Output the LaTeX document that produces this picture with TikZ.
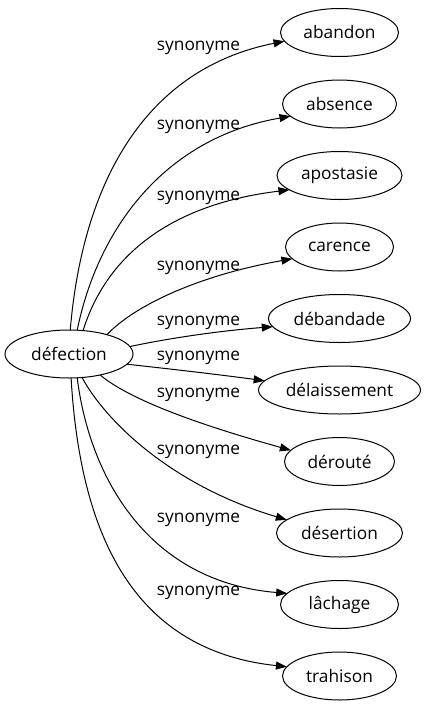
\documentclass[tikz,border=0pt]{standalone}
\usepackage{fontspec}
\setmainfont{Open Sans}
\usetikzlibrary{shapes.geometric,arrows.meta}
\begin{document}
\begin{tikzpicture}[x=1pt,y=-1pt,
  word/.style={draw, ellipse, line width=1pt, inner sep=0pt, outer sep=0pt,
    minimum height=48pt, font=\fontsize{17.3}{20}\selectfont},
  rel/.style={line width=1pt, -{Triangle[length=11pt,width=8pt]}},
  lab/.style={font=\fontsize{17.3}{20}\selectfont, inner sep=0pt}]
\useasboundingbox (0,0) rectangle (427,707);
\node[word, minimum width=128pt] (s) at (69,354) {défection};
\node[word, minimum width=118pt] (n1) at (339.5,32.5) {abandon};
\node[word, minimum width=114pt] (n2) at (339.5,104) {absence};
\node[word, minimum width=125pt] (n3) at (339.5,175.5) {apostasie};
\node[word, minimum width=108pt] (n4) at (339.5,247) {carence};
\node[word, minimum width=142pt] (n5) at (339.5,318.5) {débandade};
\node[word, minimum width=162pt] (n6) at (339.5,390) {délaissement};
\node[word, minimum width=110pt] (n7) at (339.5,461.5) {dérouté};
\node[word, minimum width=126pt] (n8) at (339.5,533) {désertion};
\node[word, minimum width=118pt] (n9) at (339.5,604.5) {lâchage};
\node[word, minimum width=114pt] (n10) at (339.5,676) {trahison};

\draw[rel] (s.87) .. controls (82,190) and (140,70) .. (n1.189);
\draw[rel] (s.71) .. controls (98,228) and (165,138) .. (n2.194);
\draw[rel] (s.59) .. controls (105,260) and (165,205) .. (n3.196);
\draw[rel] (s.27) .. controls (135,305) and (200,275) .. (n4.194);
\draw[rel] (s.7) .. controls (180,336) and (230,330) .. (n5.187);
\draw[rel] (s.-10) .. controls (180,370) and (230,376) .. (n6.173);
\draw[rel] (s.-34) .. controls (130,400) and (200,425) .. (n7.167);
\draw[rel] (s.-61) .. controls (105,420) and (170,485) .. (n8.166);
\draw[rel] (s.-71) .. controls (90,480) and (150,582) .. (n9.168);
\draw[rel] (s.-85) .. controls (80,530) and (130,650) .. (n10.170);

\node[lab] (l1) at (198.5,48) {synonyme};
\node[lab] (l2) at (198.5,127) {synonyme};
\node[lab] (l3) at (198.5,198) {synonyme};
\node[lab] (l4) at (198.5,268) {synonyme};
\node[lab] (l5) at (198.5,323) {synonyme};
\node[lab] (l6) at (198.5,358) {synonyme};
\node[lab] (l7) at (198.5,395) {synonyme};
\node[lab] (l8) at (198.5,452) {synonyme};
\node[lab] (l9) at (198.5,520) {synonyme};
\node[lab] (l10) at (198.5,593) {synonyme};
\end{tikzpicture}
\end{document}
